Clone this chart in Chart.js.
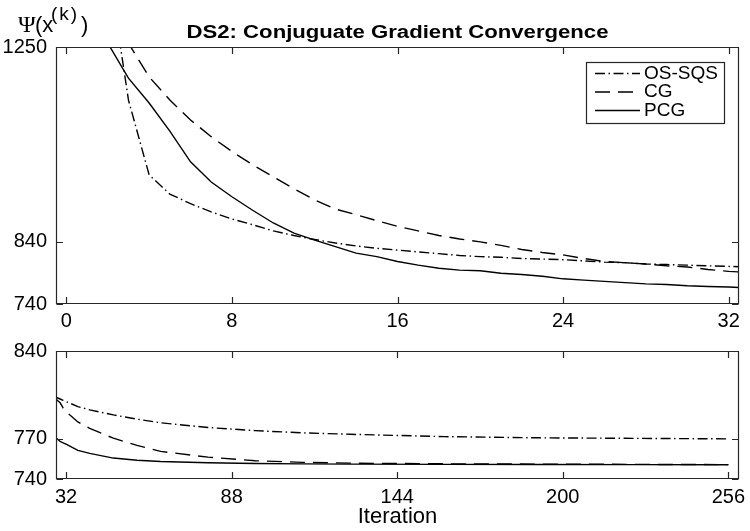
<!DOCTYPE html>
<html>
<head>
<meta charset="utf-8">
<script src="https://cdn.jsdelivr.net/npm/chart.js@4.4.1/dist/chart.umd.min.js"></script>
<style>
  body { margin: 0; background: #fff; }
  #wrap { position: relative; width: 750px; height: 531px; overflow: hidden; }
  canvas { position: absolute; left: 0; }
  #topChart { top: 0; }
  #bottomChart { top: 330px; }
</style>
</head>
<body>
<div id="wrap">
  <canvas id="topChart" width="750" height="330"></canvas>
  <canvas id="bottomChart" width="750" height="201"></canvas>
</div>
<script>
// iteration numbers, every one up to 32 then sparser
const iterations = [0, 1, 2, 3, 4, 5, 6, 7, 8, 9, 10, 11, 12, 13, 14, 15, 16,
  17, 18, 19, 20, 21, 22, 23, 24, 25, 26, 27, 28, 29, 30, 31, 32,
  36, 40, 48, 56, 64, 80, 96, 112, 128, 160, 192, 224, 256];

const osSqs = [3500, 2100, 1487, 1122, 963, 926, 908, 893, 880, 870, 859, 851, 844, 838, 833, 829, 826,
  823, 820, 817, 815, 814, 812, 811, 810, 808, 806, 805, 803, 802, 801, 800, 799,
  795, 792.4, 788.5, 785.2, 782.4, 778.7, 776.3, 774.6, 773.5, 771.7, 770.8, 770.4, 770];

const cg = [3500, 1650, 1351, 1260, 1176, 1122, 1077, 1041, 1010, 983, 959, 936, 915, 898, 888, 877, 867,
  859, 851, 845, 840, 834, 827, 822, 818, 812, 807, 805, 803, 800, 798, 794, 791,
  783, 778, 770.5, 765, 760.5, 756.2, 753.5, 752.3, 751.7, 751.2, 751, 750.8, 750.6];

const pcg = [3500, 1550, 1260, 1173, 1115, 1053, 989, 949, 921, 896, 873, 855, 843, 832, 821, 815, 807,
  801, 796, 793, 792, 788, 786, 783, 779, 777, 775, 773, 771, 770, 768, 767, 766,
  761.3, 759, 755.5, 753.9, 752.9, 752, 751.5, 751.2, 751, 750.8, 750.7, 750.6, 750.5];

const seriesNames = ['OS-SQS', 'CG', 'PCG'];

const topXTicks = [0, 8, 16, 24, 32];
const topYTicks = [740, 840, 1250];
const bottomXTicks = [32, 88, 144, 200, 256];
const bottomYTicks = [740, 770, 840];

const titleText = 'DS2: Conjuguate Gradient Convergence';
const xTitleText = 'Iteration';

const sans = "'Liberation Sans', Arial, Helvetica, sans-serif";
const dashes = [[10, 3.5, 1.5, 3.5], [15, 8], []];
const tickFont = { family: sans, size: 20 };

function makeDatasets() {
  return [osSqs, cg, pcg].map((vals, i) => ({
    label: seriesNames[i],
    data: iterations.map((it, j) => ({ x: it, y: vals[j] })),
    borderColor: '#000',
    borderWidth: 1.4,
    borderDash: dashes[i],
    pointRadius: 0,
    tension: 0,
    fill: false
  }));
}

// box round the plot, ticks pointing inward on all four sides
const frame = {
  id: 'frame',
  afterDraw(chart) {
    const { ctx, chartArea: a, scales: { x, y } } = chart;
    const tl = 6.5;
    const l = a.left + 0.5, r = a.right - 0.5, t = a.top + 0.5, b = a.bottom - 0.5;
    ctx.save();
    ctx.strokeStyle = '#262626';
    ctx.lineWidth = 1.2;
    ctx.setLineDash([]);
    ctx.beginPath();
    ctx.moveTo(l, t); ctx.lineTo(r, t); ctx.lineTo(r, b); ctx.lineTo(l, b); ctx.closePath();
    x.ticks.forEach(tk => {
      const px = Math.round(x.getPixelForValue(tk.value)) + 0.5;
      ctx.moveTo(px, b); ctx.lineTo(px, b - tl);
      ctx.moveTo(px, t); ctx.lineTo(px, t + tl);
    });
    y.ticks.forEach(tk => {
      const py = Math.round(y.getPixelForValue(tk.value)) + 0.5;
      ctx.moveTo(l, py); ctx.lineTo(l + tl, py);
      ctx.moveTo(r, py); ctx.lineTo(r - tl, py);
    });
    ctx.stroke();
    ctx.restore();
  }
};

// legend in a box at the top right of the plot
const boxLegend = {
  id: 'boxLegend',
  afterDraw(chart) {
    const { ctx, chartArea: a } = chart;
    const w = 138, h = 61;
    const left = Math.round(a.right - 15 - w), top = Math.round(a.top + 15);
    ctx.save();
    ctx.fillStyle = '#fff';
    ctx.fillRect(left, top, w, h);
    ctx.strokeStyle = '#262626';
    ctx.lineWidth = 1.2;
    ctx.setLineDash([]);
    ctx.strokeRect(left + 0.5, top + 0.5, w, h);
    ctx.font = '19px ' + sans;
    ctx.textBaseline = 'middle';
    ctx.fillStyle = '#000';
    chart.data.datasets.forEach((ds, i) => {
      const cy = top + 11.5 + i * 18.5;
      ctx.strokeStyle = ds.borderColor;
      ctx.lineWidth = ds.borderWidth;
      ctx.setLineDash(ds.borderDash);
      ctx.beginPath();
      ctx.moveTo(left + 9, cy);
      ctx.lineTo(left + 54, cy);
      ctx.stroke();
      ctx.fillText(ds.label, left + 58, cy);
    });
    ctx.restore();
  }
};

// title and the Psi(x^(k)) label above the top plot
const headings = {
  id: 'headings',
  afterDraw(chart) {
    const { ctx, chartArea: a } = chart;
    ctx.save();
    ctx.fillStyle = '#000';
    ctx.textBaseline = 'alphabetic';
    ctx.save();
    ctx.font = 'bold 18px ' + sans;
    ctx.textAlign = 'center';
    ctx.translate((a.left + a.right) / 2, 37.5);
    ctx.scale(1.23, 1);
    ctx.fillText(titleText, 0, 0);
    ctx.restore();

    ctx.textAlign = 'left';
    ctx.font = "24px 'Liberation Serif', 'DejaVu Serif', serif";
    ctx.fillText('Ψ', 18, 31.5);
    ctx.font = '22px ' + sans;
    ctx.fillText('(x', 35, 31.5);
    ctx.font = '19px ' + sans;
    ctx.letterSpacing = '2px';
    ctx.fillText('(k)', 51, 20);
    ctx.letterSpacing = '0px';
    ctx.font = '22px ' + sans;
    ctx.fillText(')', 81, 31.5);
    ctx.restore();
  }
};

function makeChart(id, o) {
  return new Chart(document.getElementById(id), {
    type: 'line',
    data: { datasets: makeDatasets() },
    plugins: o.legend ? [frame, boxLegend, headings] : [frame],
    options: {
      responsive: false,
      animation: false,
      events: [],
      layout: { padding: { top: o.padTop, right: 11, left: 0, bottom: 0 } },
      plugins: { legend: { display: false }, tooltip: { enabled: false }, title: { display: false } },
      scales: {
        x: {
          type: 'linear',
          min: o.xMin, max: o.xMax,
          grid: { display: false, drawTicks: false },
          border: { display: false },
          ticks: { color: '#000', font: tickFont, padding: o.xPad, maxRotation: 0, autoSkip: false, callback: v => String(v) },
          title: o.xTitle ? { display: true, text: o.xTitle, color: '#000',
            font: { family: sans, size: 22 }, padding: { top: 0, bottom: 1 } } : { display: false },
          afterBuildTicks: s => { s.ticks = o.xTicks.map(v => ({ value: v })); },
          afterFit: s => { s.height = o.xHeight; s.paddingLeft = 0; s.paddingRight = 0; }
        },
        y: {
          type: 'logarithmic',
          min: o.yMin, max: o.yMax,
          grid: { display: false, drawTicks: false },
          border: { display: false },
          ticks: { color: '#000', font: tickFont, padding: 9, autoSkip: false, callback: v => String(v) },
          afterBuildTicks: s => { s.ticks = o.yTicks.map(v => ({ value: v })); },
          afterFit: s => { s.width = 56; s.paddingTop = 0; s.paddingBottom = 0; }
        }
      }
    }
  });
}

makeChart('topChart', {
  xMin: -0.5, xMax: 32.5, xTicks: topXTicks,
  yMin: 740, yMax: 1250, yTicks: topYTicks,
  padTop: 47, xHeight: 26, xPad: 5, legend: true
});

makeChart('bottomChart', {
  xMin: 28.6, xMax: 259.6, xTicks: bottomXTicks,
  yMin: 740, yMax: 840, yTicks: bottomYTicks,
  padTop: 21, xHeight: 52, xPad: 6, legend: false, xTitle: xTitleText
});
</script>
</body>
</html>
